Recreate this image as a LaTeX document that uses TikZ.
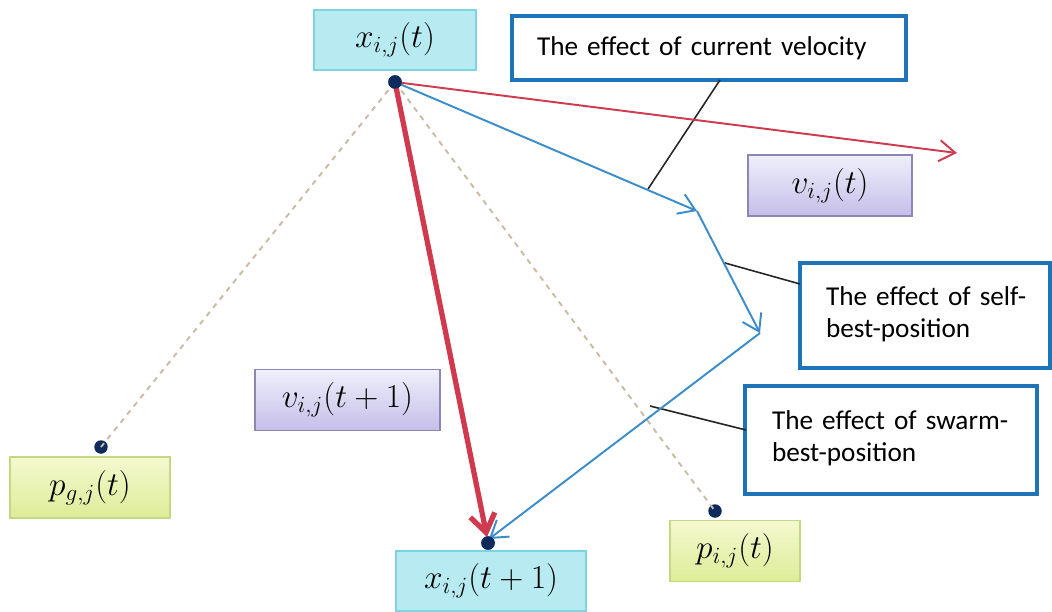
\documentclass[tikz,border=0pt]{standalone}
\usepackage{graphicx}
\usepackage{fontspec}
\setmainfont{Carlito}
\usetikzlibrary{arrows.meta}
\definecolor{cyfill}{HTML}{B8EAF1}
\definecolor{cyedge}{HTML}{7FD2DF}
\definecolor{pufillA}{HTML}{EEF0FA}
\definecolor{pufillB}{HTML}{C6BEEA}
\definecolor{puedge}{HTML}{8C86B4}
\definecolor{yefillA}{HTML}{F4F9CF}
\definecolor{yefillB}{HTML}{DDEC98}
\definecolor{yeedge}{HTML}{C5D881}
\definecolor{callblue}{HTML}{1F74B8}
\definecolor{arrblue}{HTML}{3B8CCB}
\definecolor{arrred}{HTML}{D03A4E}
\definecolor{dashc}{HTML}{C9BBA6}
\definecolor{dotc}{HTML}{0F2A5C}
\newcommand{\boxmath}[1]{\scalebox{1.1}{$#1$}}
\tikzset{
  mathfont/.style={font=\fontsize{17.28}{20}\selectfont},
  cybox/.style={draw=cyedge, line width=1pt, fill=cyfill, minimum height=1.2cm, inner sep=0pt, mathfont},
  pubox/.style={draw=puedge, line width=1pt, top color=pufillA, bottom color=pufillB, minimum height=1.22cm, inner sep=0pt, mathfont},
  yebox/.style={draw=yeedge, line width=1pt, top color=yefillA, bottom color=yefillB, minimum height=1.22cm, inner sep=0pt, mathfont},
  callbox/.style={draw=callblue, line width=2.4pt, fill=white, inner ysep=0pt, align=left, font=\fontsize{15.5}{18.3}\selectfont},
  pdot/.style={circle, fill=dotc, inner sep=0pt, minimum size=0.27cm},
  vec/.style={arrblue, line width=1.1pt, -{Straight Barb[length=3.2mm, width=4.2mm, line width=1.1pt]}},
  redvec/.style={arrred, line width=1.1pt, -{Straight Barb[length=3.2mm, width=4.2mm, line width=1.1pt]}},
  bigvec/.style={arrred, line width=3pt, -{Straight Barb[length=3.6mm, width=5mm, line width=3pt]}},
  dashl/.style={dashc, line width=1.1pt, dashed},
  lead/.style={black!85, line width=0.9pt},
}
\begin{document}
\begin{tikzpicture}[x=0.02cm, y=-0.02cm]
\useasboundingbox (0,0) rectangle (1052,612);
% boxes
\node[cybox, minimum width=3.24cm] (xt) at (395,40) {\boxmath{x_{i,j}(t)}};
\node[cybox, minimum width=3.8cm] (xt1) at (491,581) {\boxmath{x_{i,j}(t+1)}};
\node[pubox, minimum width=3.28cm] (vt) at (830,185.5) {\boxmath{v_{i,j}(t)}};
\node[pubox, minimum width=3.7cm] (vt1) at (347.5,400) {\boxmath{v_{i,j}(t+1)}};
\node[yebox, minimum width=3.2cm] (pg) at (90,487.5) {\boxmath{p_{g,j}(t)}};
\node[yebox, minimum width=2.6cm] (pi) at (735,551) {\boxmath{p_{i,j}(t)}};
% callouts
\node[callbox, text width=6.88cm, inner xsep=0.5cm, minimum height=1.28cm] (c1) at (709,48) {The effect of current velocity};
\node[callbox, text width=4.6cm, inner xsep=0.2cm, minimum height=2.1cm] (c2) at (925,315.5) {\hspace*{0.32cm}\makebox[4.28cm][s]{The effect of self-}\\\hspace*{0.32cm}best-position\\[-14pt]\mbox{}};
\node[callbox, text width=5.4cm, inner xsep=0.22cm, minimum height=2.16cm] (c3) at (891,440) {\hspace*{0.32cm}\makebox[5.08cm][s]{The effect of swarm-}\\\hspace*{0.32cm}best-position\\[-14pt]\mbox{}};
% dots
\node[pdot] (d0) at (395,82) {};
\node[pdot] (dg) at (101,447) {};
\node[pdot] (di) at (715,511) {};
\node[pdot] (d1) at (488,543) {};
% coordinates
\coordinate (rtip) at (957,153);
\coordinate (b1) at (697,211);
\coordinate (b2) at (760,333);
\coordinate (b3) at (489,539);
\coordinate (bt) at (487,537);
\coordinate (l1a) at (648,189);
\coordinate (l1b) at (720,80);
\coordinate (l2a) at (725,263);
\coordinate (l2b) at (800,284);
\coordinate (l3a) at (650,406);
\coordinate (l3b) at (746,430);
% dashed
\draw[dashl] (d0.center) -- (dg.center);
\draw[dashl] (d0.center) -- (di.center);
% leaders
\draw[lead] (l1a) -- (l1b);
\draw[lead] (l2a) -- (l2b);
\draw[lead] (l3a) -- (l3b);
% vectors
\draw[redvec] (d0.center) -- (rtip);
\draw[vec] (d0.center) -- (b1);
\draw[vec] (b1) -- (b2);
\draw[vec] (b2) -- (b3);
\draw[bigvec] (d0.center) -- (bt);
\node[pdot] at (d0) {};
\node[pdot] at (d1) {};
\end{tikzpicture}
\end{document}
